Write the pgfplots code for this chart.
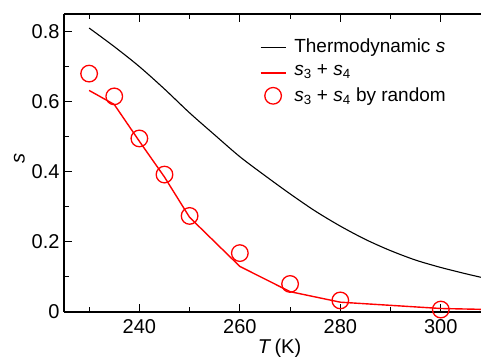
\documentclass[border=0pt]{standalone}
\usepackage{fontspec}
\setmainfont{Liberation Sans}
\usepackage{pgfplots}
\pgfplotsset{compat=1.18}
\pgfplotsset{
  blacklegend/.style={legend image code/.code={\path (0pt,0pt) (31pt,0pt); \draw[black, line width=1.1pt] (0pt,0pt) -- (25pt,0pt);}},
  redlegend/.style={legend image code/.code={\path (0pt,0pt) (31pt,0pt); \draw[red, line width=1.5pt] (0pt,-1.5pt) -- (25pt,-1.5pt);}},
  circlegend/.style={legend image code/.code={\path (0pt,0pt) (31pt,0pt); \draw[red, line width=1.3pt] (12.5pt,0pt) circle[radius=8.3pt];}},
}
\begin{document}
\fontsize{19}{22}\selectfont
\begin{tikzpicture}
\useasboundingbox (-64pt,-44pt) rectangle (417pt,312pt);
\begin{axis}[
  scale only axis, width=417pt, height=298pt,
  at={(0pt,0pt)}, anchor=south west,
  xmin=225, xmax=308, ymin=0, ymax=0.85,
  axis y line*=left,
  axis line style={line width=1.1pt},
  xtick={240,260,280,300}, minor xtick={230,250,270,290},
  ytick={0,0.2,0.4,0.6,0.8}, minor ytick={0.1,0.3,0.5,0.7},
  tick align=inside,
  major tick length=8pt, minor tick length=5pt,
  every tick/.style={black, line width=0.9pt},
  tick label style={font=\fontsize{20}{22}\selectfont},
  /pgf/number format/assume math mode=true,
  xticklabel style={yshift=-1pt},
  yticklabel style={xshift=2pt},
  xlabel={\textit{T}\,(K)},
  ylabel={\textit{s}},
  label style={font=\fontsize{20}{22}\selectfont},
  xlabel style={yshift=8pt, xshift=7pt},
  ylabel style={yshift=-6pt, xshift=5pt},
  legend style={at={(0.462,0.93)}, anchor=north west, draw=none, fill=none,
    font=\fontsize{19}{22}\selectfont, row sep=5pt},
  legend cell align=left,
]
\addplot[black, line width=1.1pt, smooth, blacklegend]
coordinates {
(230,0.810)(235,0.757)(240,0.700)(245,0.636)(250,0.568)(255,0.505)
(260,0.443)(265,0.389)(270,0.337)(275,0.288)(280,0.245)(285,0.207)
(290,0.175)(295,0.148)(300,0.127)(305,0.109)(308,0.099)};
\addlegendentry{Thermodynamic \textit{s}}
\addplot[red, line width=1.4pt, redlegend]
coordinates {
(230,0.632)(235,0.592)(240,0.487)(245,0.385)(250,0.270)(260,0.130)
(270,0.058)(280,0.028)(300,0.010)(310,0.007)};
\addlegendentry{\textit{s}\textsubscript{3} + \textit{s}\textsubscript{4}}
\addplot[red, only marks, mark=o, mark size=8.3pt, line width=1.3pt, circlegend]
coordinates {
(230,0.680)(235,0.615)(240,0.495)(245,0.392)(250,0.274)(260,0.168)
(270,0.080)(280,0.033)(300,0.007)};
\addlegendentry{\textit{s}\textsubscript{3} + \textit{s}\textsubscript{4} by random}
\end{axis}
\end{tikzpicture}
\end{document}
